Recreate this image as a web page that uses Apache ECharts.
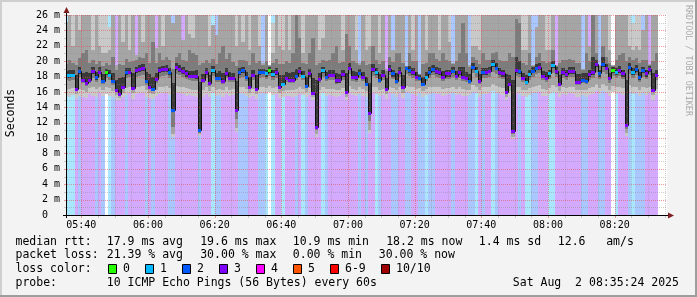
<!DOCTYPE html>
<html>
<head>
<meta charset="utf-8">
<script src="https://cdn.jsdelivr.net/npm/echarts@6.0.0/dist/echarts.min.js"></script>
<style>
html,body{margin:0;padding:0;background:#f3f3f3;}
#chart{width:697px;height:297px;}
</style>
</head>
<body>
<div id="chart"></div>
<script>
// ================= DATA =================
const firstColumn = '05:35';           // start of first 60 s column
const timeLabels = ['05:40','06:00','06:20','06:40','07:00','07:20','07:40','08:00','08:20'];
const yTicks = [0,2,4,6,8,10,12,14,16,18,20,22,24,26];
const legendLossLabels = ['0','1','2','3','4','5','6-9','10/10'];

// lost pings (of 10) per minute
const lossCount = [
1,1,1,3,2,3,3,3,3,2, 3,2,0,1,2,3,3,3,2,3, 3,3,3,3,2,3,2,3,3,3, 3,2,2,3,3,3,3,3,3,3,
2,3,3,3,1,2,2,3,3,3, 3,3,2,2,2,3,3,3,2,2, 1,0,1,3,3,1,3,3,3,2, 3,1,2,3,3,3,3,1,2,3,
3,3,3,3,3,3,3,3,2,3, 2,3,3,1,2,3,3,3,2,2, 3,3,2,2,3,3,2,2,1,2, 2,3,3,3,3,3,2,3,3,3,
3,2,2,1,3,2,3,3,1,2, 3,3,3,3,3,3,2,3,1,1, 2,2,3,3,3,1,1,3,3,3, 3,3,3,3,3,2,2,3,3,3,
2,2,3,3,0,1,3,3,3,2, 1,2,2,2,3,3,3,3];

// median rtt (ms)
const medianRtt = [
18.2,18.2,18.2,16.4,18.7,17.6,17.1,17.6,18.7,17.9, 18.65,17.4,18.6,18.25,17.4,16.3,15.7,16.7,18.6,18.6,
16.5,18.8,19.0,19.1,17.4,16.7,16.4,17.7,18.8,19.0, 19.0,18.6,13.7,19.2,19.0,18.7,18.4,18.1,18.1,18.1,
11.1,17.6,18.6,17.1,18.9,17.85,17.85,17.45,18.5,17.8, 17.8,13.6,18.55,18.8,18.0,16.6,18.2,16.4,18.55,18.6,
18.4,18.85,18.3,18.55,16.7,17.0,17.8,17.6,17.6,18.1, 18.7,18.1,16.8,18.4,15.9,11.4,17.7,18.8,18.0,18.2,
18.2,17.5,17.5,18.3,16.0,19.15,18.0,17.9,18.5,18.0, 17.0,13.3,18.95,18.6,17.55,18.2,16.4,19.0,18.4,17.45,
18.65,16.6,19.1,18.85,18.6,18.0,17.85,17.0,18.0,18.55, 19.0,18.7,18.6,18.0,18.4,18.4,18.75,18.1,18.6,18.0,
17.85,17.4,19.3,18.75,17.4,18.6,18.55,18.75,19.6,19.15, 18.55,18.4,16.0,17.0,10.9,18.85,18.7,17.85,17.3,18.3,
18.75,19.15,19.3,18.05,17.85,18.4,19.5,18.7,17.0,18.55, 18.3,18.7,18.7,17.25,17.3,17.6,17.45,18.3,18.6,19.6,
18.4,19.6,19.15,17.75,18.85,18.6,18.85,18.4,11.65,19.2, 18.6,19.0,17.9,18.8,18.4,19.0,16.25,18.2];

// smoke: sorted ping spread per minute (ms); values above 26 run off the top
const smokeMin = [
15.5,15.3,15.6,15.1,15.5,15.4,15.2,15.7,15.5,15.4, 15.8,15.5,15.7,15.5,15.3,15.0,14.9,15.3,15.6,15.8,
15.1,15.7,15.9,15.8,15.4,15.2,15.1,15.5,15.7,15.9, 15.8,15.6,10.2,15.9,15.8,15.7,15.5,15.6,15.5,15.4,
10.3,15.4,15.7,15.3,15.8,15.5,15.6,15.4,15.7,15.5, 15.6,10.8,15.8,15.7,15.5,15.2,15.5,15.1,15.7,15.8,
15.7,16.0,15.6,15.7,15.2,15.4,15.5,15.5,15.4,15.5, 15.7,15.6,15.3,15.6,14.9,10.2,15.5,15.8,15.5,15.6,
15.5,15.4,15.5,15.7,15.0,15.9,15.6,15.5,15.7,15.5, 15.4,10.6,15.8,15.7,15.5,15.6,15.1,15.8,15.7,15.4,
15.7,15.2,16.0,15.8,15.7,15.5,15.8,15.4,15.6,15.7, 15.8,15.7,15.7,15.5,15.6,15.7,15.8,15.6,15.7,15.5,
15.5,15.6,16.0,15.8,15.4,15.7,15.7,15.8,16.1,15.9, 15.7,15.6,15.0,15.3,9.9,15.8,15.7,15.5,15.4,15.6,
15.9,15.9,16.0,15.5,15.5,15.7,16.0,15.8,15.3,15.7, 15.6,15.8,15.7,15.4,15.4,15.6,15.4,15.6,15.7,16.1,
15.7,16.1,15.9,15.5,16.0,15.7,15.8,15.6,10.3,16.0, 15.7,15.8,15.5,15.8,15.6,15.9,15.0,15.6];
const smokeMidLo = [
16.3,16.4,16.5,15.7,16.4,16.2,16.0,16.5,16.6,16.4, 16.6,16.3,16.7,16.5,16.1,15.6,15.2,15.9,16.5,16.6,
15.8,16.6,16.7,16.8,16.2,15.9,15.7,16.3,16.6,16.7, 16.8,16.5,10.5,16.8,16.7,16.6,16.5,16.4,16.3,16.3,
10.5,16.2,16.6,16.1,16.7,16.3,16.4,16.2,16.6,16.3, 16.4,11.3,16.6,16.7,16.4,15.9,16.4,15.7,16.6,16.6,
16.5,16.8,16.5,16.6,15.9,16.1,16.3,16.3,16.2,16.4, 16.6,16.4,16.0,16.5,15.3,10.5,16.3,16.7,16.4,16.4,
16.4,16.2,16.3,16.5,15.4,16.8,16.4,16.3,16.6,16.4, 16.1,11.1,16.7,16.6,16.3,16.4,15.7,16.7,16.5,16.2,
16.6,15.9,16.8,16.7,16.6,16.4,16.5,16.1,16.4,16.6, 16.7,16.6,16.6,16.4,16.5,16.5,16.6,16.4,16.6,16.4,
16.3,16.3,16.9,16.7,16.2,16.6,16.6,16.7,17.0,16.8, 16.6,16.5,15.4,16.1,10.2,16.7,16.6,16.3,16.2,16.5,
16.7,16.8,16.9,16.4,16.3,16.5,16.9,16.6,16.1,16.6, 16.5,16.6,16.6,16.2,16.2,16.3,16.2,16.5,16.6,17.0,
16.5,17.0,16.8,16.3,16.8,16.6,16.7,16.5,10.6,16.9, 16.6,16.7,16.3,16.7,16.5,16.7,15.6,16.4];
const smokeInnerLo = [
17.5,17.4,17.6,16.2,17.9,17.1,16.8,17.2,17.8,17.3, 17.9,17.0,17.8,17.6,16.9,16.1,15.6,16.5,17.8,17.9,
16.3,18.0,18.1,18.2,16.9,16.5,16.2,17.2,18.0,18.1, 18.2,17.8,11.5,18.3,18.2,17.9,17.7,17.5,17.4,17.4,
10.7,17.1,17.8,16.8,18.1,17.3,17.3,17.0,17.8,17.3, 17.3,12.5,17.8,18.0,17.4,16.4,17.5,16.2,17.8,17.9,
17.7,18.1,17.6,17.8,16.5,16.8,17.3,17.1,17.1,17.5, 17.9,17.5,16.6,17.7,15.8,11.0,17.2,18.0,17.4,17.5,
17.5,17.0,17.1,17.6,15.9,18.3,17.4,17.3,17.8,17.4, 16.8,12.2,18.1,17.8,17.1,17.5,16.2,18.2,17.7,17.0,
17.9,16.4,18.3,18.1,17.8,17.4,17.4,16.8,17.4,17.8, 18.2,17.9,17.8,17.4,17.7,17.7,17.9,17.5,17.8,17.4,
17.3,17.0,18.4,18.0,17.0,17.8,17.8,18.0,18.6,18.3, 17.8,17.7,15.9,16.8,10.5,18.1,17.9,17.3,16.9,17.6,
18.0,18.3,18.4,17.5,17.3,17.7,18.5,17.9,16.8,17.8, 17.6,17.9,17.9,16.9,16.9,17.1,17.0,17.6,17.8,18.6,
17.7,18.6,18.3,17.2,18.1,17.8,18.1,17.7,11.2,18.3, 17.8,18.2,17.3,18.0,17.7,18.2,16.1,17.5];
const smokeCoreLo = [
17.8,17.8,17.9,16.2,18.3,17.3,16.9,17.4,18.3,17.6, 18.3,17.2,18.2,17.9,17.1,16.1,15.6,16.6,18.2,18.3,
16.4,18.4,18.6,18.7,17.1,16.6,16.3,17.4,18.4,18.6, 18.6,18.2,13.5,18.8,18.6,18.3,18.0,17.8,17.8,17.7,
10.9,17.3,18.2,16.9,18.5,17.6,17.6,17.2,18.1,17.5, 17.6,13.4,18.2,18.4,17.7,16.5,17.9,16.3,18.2,18.3,
18.0,18.5,18.0,18.2,16.6,16.9,17.5,17.3,17.3,17.8, 18.3,17.8,16.7,18.0,15.8,11.2,17.4,18.4,17.7,17.9,
17.9,17.2,17.2,18.0,15.9,18.8,17.7,17.6,18.2,17.7, 16.9,13.1,18.6,18.2,17.3,17.9,16.3,18.6,18.0,17.2,
18.3,16.5,18.8,18.5,18.2,17.7,17.6,16.9,17.7,18.2, 18.6,18.3,18.2,17.7,18.0,18.0,18.4,17.8,18.2,17.7,
17.6,17.2,18.9,18.4,17.2,18.2,18.2,18.4,19.2,18.8, 18.2,18.0,15.9,16.9,10.7,18.5,18.3,17.6,17.1,18.0,
18.4,18.8,18.9,17.8,17.6,18.0,19.1,18.3,16.9,18.2, 18.0,18.3,18.3,17.1,17.1,17.4,17.2,18.0,18.2,19.2,
18.0,19.2,18.8,17.5,18.5,18.2,18.5,18.0,11.5,18.8, 18.2,18.6,17.6,18.4,18.0,18.6,16.2,17.9];
const smokeCoreHi = [
18.7,18.9,18.8,18.2,19.2,18.5,18.6,18.4,19.3,18.6, 19.2,18.3,19.0,18.8,18.5,17.6,17.8,17.9,19.1,19.1,
18.5,19.3,19.5,19.6,18.6,18.3,18.0,18.5,19.3,19.4, 19.5,19.1,17.2,19.7,19.5,19.2,18.9,18.7,18.7,18.8,
17.3,18.3,19.1,18.2,19.4,18.4,18.7,18.5,19.1,18.6, 18.5,17.4,19.1,19.3,18.6,18.0,18.9,18.2,19.0,19.0,
18.9,19.2,18.8,19.1,18.2,18.2,18.6,18.5,18.6,19.0, 19.2,18.7,18.0,19.0,17.8,17.5,18.4,19.3,18.6,18.8,
18.9,18.5,18.3,18.9,18.5,19.7,18.7,18.6,19.0,18.6, 18.0,17.2,19.6,19.1,18.3,18.8,17.8,19.5,18.9,18.4,
19.2,18.2,19.3,19.4,19.1,18.6,18.2,18.0,18.6,19.2, 19.5,19.2,19.1,18.7,18.9,18.9,19.2,18.7,19.2,19.2,
18.6,18.3,19.8,19.2,18.3,19.1,19.1,19.2,20.1,19.7, 19.1,18.9,18.3,18.2,17.5,20.5,20.0,18.5,18.2,18.9,
19.2,19.6,19.8,18.7,18.6,18.9,20.0,19.2,18.2,19.1, 18.9,19.2,19.2,18.3,18.3,18.4,18.4,18.9,20.5,20.1,
18.9,20.5,19.6,18.5,19.2,19.1,19.4,18.9,17.5,19.7, 19.1,19.5,18.6,19.3,18.9,19.4,18.4,18.8];
const smokeInnerHi = [
19.6,20.2,19.8,19.5,20.4,21.0,21.5,19.8,20.1,19.6, 20.0,19.4,19.7,19.5,20.5,18.8,19.6,19.5,20.3,19.9,
20.0,20.1,20.6,20.4,21.0,19.8,22.5,19.8,21.0,20.2, 20.5,20.2,19.0,20.6,21.0,20.2,20.0,21.5,21.0,20.8,
19.5,19.8,20.2,19.8,20.3,19.6,21.0,22.0,20.3,21.0, 19.9,19.4,20.2,20.2,20.0,19.5,21.0,19.8,20.0,19.5,
20.0,19.4,19.8,20.3,19.6,19.6,20.0,19.8,21.0,27, 23.0,19.8,19.6,21.0,23.0,19.5,19.7,20.1,20.0,20.2,
21.0,22.0,19.8,19.9,23.5,22.0,20.0,19.8,19.5,20.0, 19.5,19.6,22.0,20.2,19.6,20.0,18.7,20.5,19.9,21.0,
21.0,19.8,19.4,21.0,20.0,20.0,18.3,19.6,19.7,21.0, 21.0,20.3,20.0,21.0,20.1,20.0,19.6,20.0,21.0,25.0,
21.0,19.3,20.6,20.1,19.6,21.0,20.2,20.2,21.0,21.2, 20.2,20.0,20.0,21.0,20.5,25.5,25.0,19.7,19.5,21.0,
19.4,20.5,21.0,20.0,19.8,19.9,21.5,19.4,19.8,20.2, 20.1,20.3,20.2,19.8,19.8,18.9,21.0,20.0,27,21.0,
19.4,22.0,20.6,19.7,19.4,20.2,20.8,21.0,20.0,20.5, 20.1,20.4,19.8,20.2,20.1,19.5,20.0,21.0];
const smokeMidHi = [
25.1,27,22.0,27,24.0,27,27,27,21.5,27, 22.0,21.0,21.0,21.5,27,19.5,27,22.5,27,21.5,
27,20.8,27,22.5,27,27,27,21.7,27,22.0, 27,27,25.0,27,27,22.8,27,23.5,23.0,27,
27,27,27,22.0,24.7,23.4,27,27,27,27, 27,22.0,27,22.5,27,21.5,27,27,22.0,19.7,
27,19.5,21.0,27,22.0,21.5,27,21.5,27,27, 27,21.0,27,27,27,27,21.5,23.0,27,27,
27,27,27,21.5,27,27,27,21.5,19.7,27, 21.5,22.0,27,27,21.0,27,19.0,27,21.5,27,
27,27,19.4,27,21.5,27,18.3,27,21.5,27, 27,27,21.5,27,27,22.5,19.7,27,27,27,
27,19.5,22.0,22.0,21.5,27,27,27,27,27, 27,27,27,27,27,27,27,21.5,21.5,27,
19.5,24.5,27,27,21.5,21.5,27,19.5,27,27, 27,27,27,27,27,19.0,27,22.0,27,27,
19.5,27,27,21.5,19.5,27,27,27,27,22.0, 21.5,22.0,21.5,24.0,27,19.6,27,27];
const smokeMax = [
25.1,27,27,27,27,27,27,27,27,27, 27,27,27,24.5,27,19.5,27,27,27,27,
27,20.8,27,27,27,27,27,21.7,27,27, 27,27,25.0,27,27,22.8,27,27,27,27,
27,27,27,27,24.7,23.4,27,27,27,27, 27,27,27,27,27,27,27,27,27,19.7,
27,19.5,25.0,27,27,27,27,27,27,27, 27,27,27,27,27,27,27,27,27,27,
27,27,27,27,27,27,27,27,19.7,27, 27,27,27,27,27,27,19.0,27,21.5,27,
27,27,19.4,27,27,27,18.3,27,27,27, 27,27,27,27,27,27,19.7,27,27,27,
27,19.5,27,27,27,27,27,27,27,27, 27,27,27,27,27,27,27,27,27,27,
19.5,24.5,27,27,27,27,27,19.5,27,27, 27,27,27,27,27,19.0,27,22.0,27,27,
19.5,27,27,27,19.5,27,27,27,27,27, 25.0,27,27,24.0,27,19.6,27,27];

// ================= STYLE =================
const FONT = '"DejaVu Sans Mono"';
const lossColors = ['#26ff00','#00b8ff','#0059ff','#7e00ff','#ff00ff','#ff5500','#ff0000','#a00000'];
const lossBg = [null,'#aae7ff','#aac8ff','#d4aaff'];
const GL = 67, GT = 15, GW = 600, GH = 200;
const X0 = 335.7, X1 = X0 + 180;
const YMAX = 26;

function toMin(s){ const p = s.split(':'); return (+p[0])*60 + (+p[1]); }
const tStart = toMin(firstColumn);
const tickMinutes = timeLabels.map(toMin);
const colData = medianRtt.map((m, i) => [tStart + i + 0.5, m]);

function clampV(v){ return Math.max(0, Math.min(YMAX, v)); }
function yPix(api, v){ return Math.round(api.coord([X0 + 1, clampV(v)])[1]); }
function colEdges(api, i){
  let x0 = Math.round(api.coord([tStart + i, 0])[0]);
  let x1 = Math.round(api.coord([tStart + i + 1, 0])[0]);
  return [Math.max(x0, GL), Math.min(x1, GL + GW)];
}

const bands = [
  [smokeMin, smokeMax, '#c9c9c9'],
  [smokeMidLo, smokeMidHi, '#a5a5a5'],
  [smokeInnerLo, smokeInnerHi, '#7c7c7c'],
  [smokeCoreLo, smokeCoreHi, '#3a3a3a']
];

const chart = echarts.init(document.getElementById('chart'), null, {renderer: 'canvas', width: 697, height: 297});

const option = {
  animation: false,
  backgroundColor: '#f3f3f3',
  grid: {left: GL, top: GT, width: GW, height: GH, show: true, backgroundColor: '#ffffff', borderWidth: 0},
  xAxis: {
    type: 'value', min: X0, max: X1,
    axisLine: {show: false}, axisTick: {show: false}, splitLine: {show: false},
    axisLabel: {
      customValues: tickMinutes, margin: 5,
      fontFamily: FONT, fontSize: 10, color: '#000',
      formatter: v => { const i = tickMinutes.indexOf(Math.round(v)); return i >= 0 ? timeLabels[i] : ''; }
    }
  },
  yAxis: {
    type: 'value', min: 0, max: YMAX, interval: 2,
    axisLine: {show: false}, axisTick: {show: false}, splitLine: {show: false},
    axisLabel: {
      margin: 7, fontFamily: FONT, fontSize: 10, color: '#000',
      formatter: v => (yTicks.indexOf(v) < 0 ? '' : (v === 0 ? '0  ' : v + ' m'))
    }
  },
  series: [
    { // loss background
      type: 'custom', z: 1, silent: true, data: colData,
      renderItem(params, api){
        const i = params.dataIndex, c = lossBg[lossCount[i]];
        if (!c) return null;
        const [x0, x1] = colEdges(api, i);
        const yt = yPix(api, YMAX), yb = yPix(api, 0);
        return {type: 'rect', shape: {x: x0, y: yt, width: x1 - x0, height: yb - yt}, style: {fill: c}};
      }
    },
    { // smoke
      type: 'custom', z: 2, silent: true, data: colData,
      renderItem(params, api){
        const i = params.dataIndex;
        const [x0, x1] = colEdges(api, i);
        const children = bands.map(([lo, hi, col]) => {
          const ya = yPix(api, hi[i]), yb = yPix(api, lo[i]);
          return {type: 'rect', shape: {x: x0, y: ya, width: x1 - x0, height: Math.max(0, yb - ya)}, style: {fill: col}};
        });
        return {type: 'group', children};
      }
    },
    { // grid on top
      type: 'custom', z: 3, silent: true, data: [[X0 + 1, 1]],
      renderItem(params, api){
        const children = [];
        const yTop = Math.round(api.coord([X0, YMAX])[1]), yBot = Math.round(api.coord([X0, 0])[1]);
        const xL = Math.round(api.coord([X0, 0])[0]), xR = Math.round(api.coord([X1, 0])[0]);
        const minorC = 'rgba(140,140,140,0.42)', majorC = 'rgba(222,80,80,0.55)';
        for (let v = 1; v <= YMAX; v++){
          const y = Math.round(api.coord([X0, v])[1]) + 0.5;
          const c = (v % 2 === 0) ? majorC : minorC;
          children.push({type: 'line', shape: {x1: xL, y1: y, x2: xR, y2: y}, style: {stroke: c, lineWidth: 1, lineDash: [1, 1]}});
          children.push({type: 'line', shape: {x1: xL - 3, y1: y, x2: xL - 1, y2: y}, style: {stroke: c, lineWidth: 1}});
        }
        for (let t = Math.ceil(X0 / 5) * 5; t <= X1; t += 5){
          const x = Math.round(api.coord([t, 0])[0]) + 0.5;
          const c = (t % 20 === 0) ? majorC : minorC;
          children.push({type: 'line', shape: {x1: x, y1: yTop, x2: x, y2: yBot}, style: {stroke: c, lineWidth: 1, lineDash: [1, 1]}});
          children.push({type: 'line', shape: {x1: x, y1: yBot + 1, x2: x, y2: yBot + 3}, style: {stroke: c, lineWidth: 1}});
        }
        return {type: 'group', children};
      }
    },
    { // median line
      type: 'custom', z: 4, silent: true, data: colData,
      renderItem(params, api){
        const i = params.dataIndex;
        const [x0, x1] = colEdges(api, i);
        const y = yPix(api, medianRtt[i]);
        const yp = i > 0 ? yPix(api, medianRtt[i - 1]) : y;
        return {type: 'polyline', shape: {points: [[x0 + 0.5, yp + 0.5], [x0 + 0.5, y + 0.5], [x1 + 0.5, y + 0.5]]},
                style: {stroke: '#111', lineWidth: 1, fill: null}};
      }
    },
    { // loss-coloured median markers
      type: 'custom', z: 5, silent: true, data: colData,
      renderItem(params, api){
        const i = params.dataIndex;
        const c = lossColors[lossCount[i]];
        const [x0, x1] = colEdges(api, i);
        const y = yPix(api, medianRtt[i]);
        return {type: 'rect', shape: {x: x0, y: y - 1, width: x1 - x0, height: 3}, style: {fill: c}};
      }
    }
  ],
  graphic: []
};

// ---- decorations: frame, axes, texts ----
const G = [];
G.push({type: 'rect', shape: {x: 0, y: 0, width: 697, height: 2}, style: {fill: '#cfcfcf'}, silent: true});
G.push({type: 'rect', shape: {x: 0, y: 0, width: 2, height: 297}, style: {fill: '#cfcfcf'}, silent: true});
G.push({type: 'rect', shape: {x: 0, y: 295, width: 697, height: 2}, style: {fill: '#9e9e9e'}, silent: true});
G.push({type: 'rect', shape: {x: 695, y: 0, width: 2, height: 297}, style: {fill: '#9e9e9e'}, silent: true});
// axes
G.push({type: 'line', shape: {x1: GL - 4, y1: GT + GH + 0.5, x2: GL + GW + 2, y2: GT + GH + 0.5}, style: {stroke: '#000', lineWidth: 1}, silent: true});
G.push({type: 'line', shape: {x1: GL - 0.5, y1: GT + GH + 3, x2: GL - 0.5, y2: GT - 2}, style: {stroke: '#000', lineWidth: 1}, silent: true});
G.push({type: 'polygon', shape: {points: [[GL + GW + 1, GT + GH - 2.5], [GL + GW + 1, GT + GH + 3.5], [GL + GW + 7, GT + GH + 0.5]]}, style: {fill: '#7f1f1f'}, silent: true});
G.push({type: 'polygon', shape: {points: [[GL - 3.5, GT - 2], [GL + 2.5, GT - 2], [GL - 0.5, GT - 8]]}, style: {fill: '#7f1f1f'}, silent: true});
// titles
G.push({type: 'text', x: 11, y: 113, rotation: Math.PI / 2, silent: true,
  style: {text: 'Seconds', font: '11.5px ' + FONT, fill: '#000', textAlign: 'center', textVerticalAlign: 'middle'}});
G.push({type: 'text', x: 688.5, y: 5, rotation: -Math.PI / 2, silent: true,
  style: {text: 'RRDTOOL / TOBI OETIKER', font: '8.4px ' + FONT, fill: '#ababab', textAlign: 'left', textVerticalAlign: 'middle'}});
// legend
const LF = '11.5px ' + FONT;
function txt(s, x, y){ G.push({type: 'text', x: x - 0.5, y, silent: true, style: {text: s, font: LF, fill: '#000', textAlign: 'left', textVerticalAlign: 'middle'}}); }
[['median rtt:',16],['17.9 ms avg',107.3],['19.6 ms max',200.7],['10.9 ms min',293.3],['18.2 ms now',386.7],['1.4 ms sd',479.3],['12.6',558.3],['am/s',606.7]].forEach(a => txt(a[0], a[1], 241.7));
[['packet loss:',16],['21.39 % avg',107.3],['30.00 % max',200.7],['0.00 % min',293.3],['30.00 % now',379.3]].forEach(a => txt(a[0], a[1], 255));
txt('loss color:', 16, 269.3);
const boxX = [108.5, 145.5, 182.5, 219.5, 256.5, 293.5, 330.5, 381.5];
legendLossLabels.forEach((lab, i) => {
  G.push({type: 'rect', silent: true, shape: {x: boxX[i], y: 264.5, width: 8, height: 9}, style: {fill: lossColors[i], stroke: '#000', lineWidth: 1}});
  txt(lab, boxX[i] + 15, 269.3);
});
[['probe:',16],['10 ICMP Echo Pings (56 Bytes) every 60s',107.3],['Sat Aug  2 08:35:24 2025',513.3]].forEach(a => txt(a[0], a[1], 282.7));
option.graphic = G;

chart.setOption(option);
</script>
</body>
</html>
